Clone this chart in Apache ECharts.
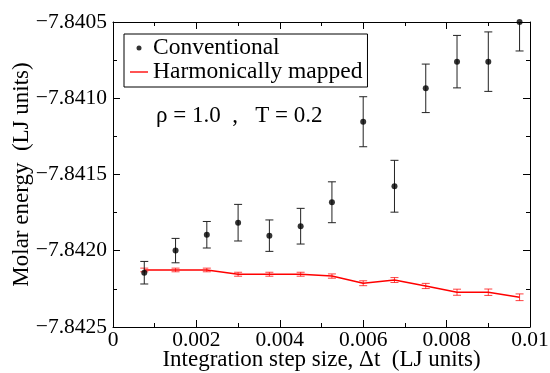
<!DOCTYPE html>
<html><head><meta charset="utf-8">
<script src="https://cdn.jsdelivr.net/npm/echarts@6/dist/echarts.min.js"></script>
<style>html,body{margin:0;padding:0;background:#fff}#c{width:550px;height:373px}</style>
</head><body><div id="c"></div>
<script>
const stepSizes = [0.00075, 0.0015, 0.00225, 0.003, 0.00375, 0.0045, 0.00525, 0.006, 0.00675, 0.0075, 0.00825, 0.009, 0.00975];
const conventional = [-7.842144, -7.841999, -7.841895, -7.841816, -7.841901, -7.841839, -7.841682, -7.841154, -7.841577, -7.840935, -7.840760, -7.840760, -7.840500];
const conventionalErr = [0.000074, 0.000080, 0.000087, 0.000120, 0.000103, 0.000117, 0.000134, 0.000164, 0.000170, 0.000159, 0.000172, 0.000195, 0.000190];
const harmonic = [-7.842126, -7.842126, -7.842126, -7.842154, -7.842154, -7.842154, -7.842166, -7.842213, -7.842192, -7.842231, -7.842272, -7.842272, -7.842305];
const harmonicErr = [0.000012, 0.000012, 0.000012, 0.000013, 0.000013, 0.000013, 0.000014, 0.000016, 0.000016, 0.000017, 0.000020, 0.000021, 0.000022];
const xTicks = {min: 0, max: 0.01, interval: 0.002};
const yTicks = {min: -7.8425, max: -7.8405, interval: 0.0005};
const seriesNames = ['Conventional', 'Harmonically mapped'];
const xTitle = 'Integration step size, \u0394t  (LJ units)';
const yTitle = 'Molar energy  (LJ units)';
const note = '\u03c1 = 1.0  ,   T = 0.2';

const FONT = 'Liberation Serif';
const chart = echarts.init(document.getElementById('c'));

function errRender(color, hw) {
  return function (params, api) {
    const x = api.value(0), y = api.value(1), e = api.value(2);
    const t = api.coord([x, y + e]), b = api.coord([x, y - e]);
    const st = {stroke: color, lineWidth: 1};
    return {type: 'group', children: [
      {type: 'line', shape: {x1: t[0], y1: t[1], x2: b[0], y2: b[1]}, style: st},
      {type: 'line', shape: {x1: t[0] - hw, y1: t[1], x2: t[0] + hw, y2: t[1]}, style: st},
      {type: 'line', shape: {x1: b[0] - hw, y1: b[1], x2: b[0] + hw, y2: b[1]}, style: st}
    ]};
  };
}

function axisCommon() {
  return {
    axisLine: {show: true, onZero: false, lineStyle: {color: '#000', width: 1}},
    axisTick: {show: true, inside: true, length: 7, lineStyle: {color: '#000'}},
    minorTick: {show: true, splitNumber: 2, length: 4, lineStyle: {color: '#000'}},
    splitLine: {show: false},
    minorSplitLine: {show: false}
  };
}

const option = {
  animation: false,
  backgroundColor: '#fff',
  grid: {left: 113, right: 20, top: 22, bottom: 46, containLabel: false, outerBoundsMode: 'none'},
  xAxis: [
    Object.assign({type: 'value', position: 'bottom', min: xTicks.min, max: xTicks.max, interval: xTicks.interval,
      name: xTitle, nameLocation: 'middle', nameGap: 21, nameMoveOverlap: false,
      nameTextStyle: {fontFamily: FONT, fontSize: 23, color: '#000'},
      axisLabel: {fontFamily: FONT, fontSize: 21.5, color: '#000', margin: 2, hideOverlap: false,
        formatter: v => (Math.abs(v) < 1e-12 ? '0' : String(+v.toFixed(3)))}}, axisCommon()),
    Object.assign({type: 'value', position: 'top', min: xTicks.min, max: xTicks.max, interval: xTicks.interval,
      axisLabel: {show: false}}, axisCommon())
  ],
  yAxis: [
    Object.assign({type: 'value', position: 'left', min: yTicks.min, max: yTicks.max, interval: yTicks.interval,
      name: yTitle, nameLocation: 'middle', nameGap: 80, nameMoveOverlap: false,
      nameTextStyle: {fontFamily: FONT, fontSize: 23, color: '#000'},
      axisLabel: {fontFamily: FONT, fontSize: 21.5, color: '#000', margin: 6,
        formatter: v => v.toFixed(4).replace('-', '\u2212')}}, axisCommon()),
    Object.assign({type: 'value', position: 'right', min: yTicks.min, max: yTicks.max, interval: yTicks.interval,
      axisLabel: {show: false}}, axisCommon())
  ],
  legend: {
    left: 124, top: 34, orient: 'vertical', itemWidth: 18, itemHeight: 5, itemGap: 0,
    borderColor: '#000', borderWidth: 1, padding: [2, 5, 3, 6], backgroundColor: '#fff',
    selectedMode: false,
    textStyle: {fontFamily: FONT, fontSize: 23.5, color: '#000', lineHeight: 22},
    data: [
      {name: seriesNames[0], icon: 'circle'},
      {name: seriesNames[1], icon: 'path://M0,0 M0,5 M0,1.75 H20 V3.25 H0 Z'}
    ]
  },
  graphic: [{type: 'text', left: 156, top: 104,
    style: {text: note, fontFamily: FONT, fontSize: 23, fill: '#000'}}],
  series: [
    {name: seriesNames[1], type: 'line', symbol: 'none', color: '#ff0000',
      lineStyle: {color: '#ff0000', width: 1.5},
      data: stepSizes.map((x, i) => [x, harmonic[i]]), z: 2},
    {name: seriesNames[1] + ' err', type: 'custom', renderItem: errRender('rgba(255,0,0,0.75)', 4),
      data: stepSizes.map((x, i) => [x, harmonic[i], harmonicErr[i]]), z: 2, clip: true},
    {name: seriesNames[0] + ' err', type: 'custom', renderItem: errRender('#222', 4),
      data: stepSizes.map((x, i) => [x, conventional[i], conventionalErr[i]]), z: 3, clip: true},
    {name: seriesNames[0], type: 'scatter', symbol: 'circle', symbolSize: 6, color: '#000',
      itemStyle: {color: '#000'},
      data: stepSizes.map((x, i) => [x, conventional[i]]), z: 4}
  ]
};
chart.setOption(option);
</script></body></html>
